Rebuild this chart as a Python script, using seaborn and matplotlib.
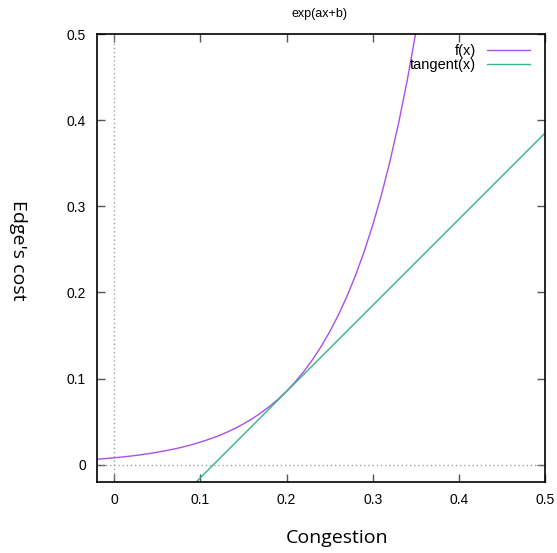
import matplotlib
matplotlib.use('Agg')
import matplotlib.pyplot as plt
import seaborn as sns
import pandas as pd

# values
x_curve = [-0.02, -0.01, 0.00, 0.01, 0.02, 0.03, 0.04, 0.05, 0.06, 0.07,
           0.08, 0.09, 0.10, 0.11, 0.12, 0.13, 0.14, 0.15, 0.16, 0.17,
           0.18, 0.19, 0.20, 0.21, 0.22, 0.23, 0.24, 0.25, 0.26, 0.27,
           0.28, 0.29, 0.30, 0.31, 0.32, 0.33, 0.34, 0.35, 0.36]
y_curve = [0.0064, 0.0072, 0.0081, 0.0091, 0.0102, 0.0115, 0.0129, 0.0146, 0.0164, 0.0184,
           0.0207, 0.0233, 0.0263, 0.0296, 0.0332, 0.0374, 0.0421, 0.0474, 0.0533, 0.0600,
           0.0675, 0.0759, 0.0854, 0.0962, 0.1082, 0.1218, 0.1370, 0.1542, 0.1735, 0.1952,
           0.2196, 0.2471, 0.2780, 0.3128, 0.3520, 0.3961, 0.4457, 0.5015, 0.5644]
x_tangent = [0.095, 0.5]
y_tangent = [-0.02, 0.385]
ticks = [0, 0.1, 0.2, 0.3, 0.4, 0.5]
tick_labels = ['0', '0.1', '0.2', '0.3', '0.4', '0.5']

curve = pd.DataFrame({'x': x_curve, 'y': y_curve})
tangent = pd.DataFrame({'x': x_tangent, 'y': y_tangent})

sns.set_style('ticks')
plt.rcParams['font.family'] = ['Liberation Sans', 'DejaVu Sans']
plt.rcParams['text.color'] = 'black'

fig = plt.figure(figsize=(5.57, 5.53), dpi=100)
ax = fig.add_axes([97 / 557, 71 / 553, 448 / 557, 448 / 553])

ax.axhline(0, color='#a0a0a0', lw=1, ls=(0, (1, 2)), zorder=1)
ax.axvline(0, color='#a0a0a0', lw=1, ls=(0, (1, 2)), zorder=1)

sns.lineplot(data=curve, x='x', y='y', ax=ax, color='#a94fe6', lw=1, label='f(x)')
sns.lineplot(data=tangent, x='x', y='y', ax=ax, color='#37b48b', lw=1, label='tangent(x)')

ax.set_xlim(-0.02, 0.5)
ax.set_ylim(-0.02, 0.5)
ax.set_xticks(ticks)
ax.set_xticklabels(tick_labels)
ax.set_yticks(ticks)
ax.set_yticklabels(tick_labels)
ax.tick_params(direction='in', length=6, width=1, top=True, right=True,
               labelsize=10, pad=8, color='#555555', labelcolor='black')
for s in ax.spines.values():
    s.set_linewidth(1.2)
    s.set_color('black')
ax.set_xlabel('')
ax.set_ylabel('')

ax.legend(loc='upper right', bbox_to_anchor=(0.99, 1.0), frameon=False, markerfirst=False,
          fontsize=10.5, handlelength=3.0, handletextpad=0.7, labelspacing=0.0,
          borderaxespad=0.3)
for t in ax.get_legend().get_texts():
    t.set_ha('right')

fig.text(320 / 557, 1 - 14 / 553, 'exp(ax+b)', ha='center', va='center', fontsize=9)
fig.text(337 / 557, 1 - 538 / 553, 'Congestion', ha='center', va='center',
         fontsize=14, family=['Open Sans', 'DejaVu Sans'])
fig.text(18 / 557, 1 - 250 / 553, "Edge's cost", ha='center', va='center',
         rotation=-90, fontsize=14, family=['Open Sans', 'DejaVu Sans'])

fig.savefig('out.png', dpi=100)
